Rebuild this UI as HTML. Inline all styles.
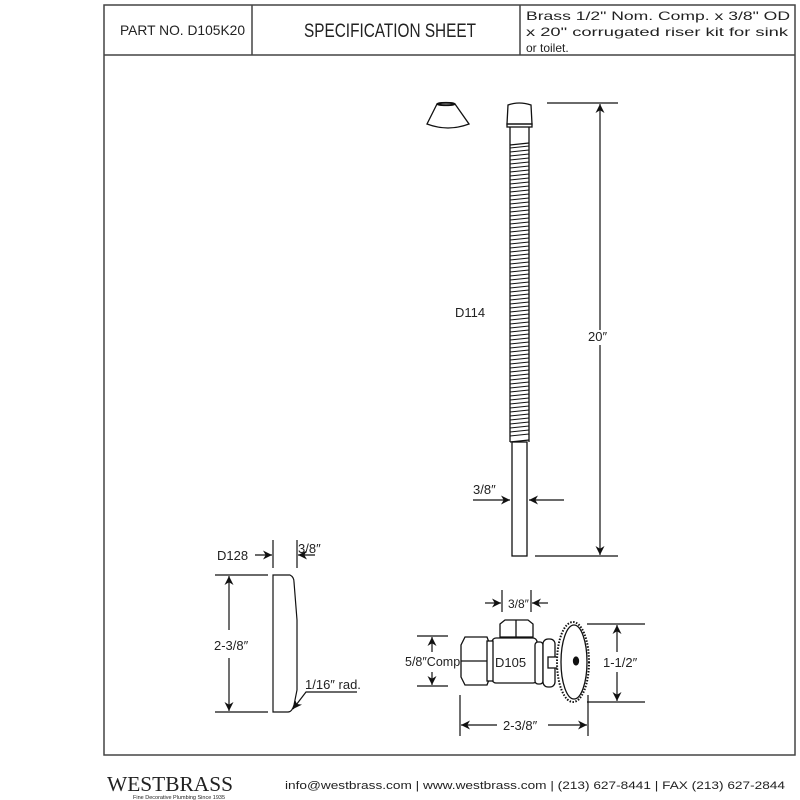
<!DOCTYPE html>
<html><head><meta charset="utf-8"><style>
html,body{margin:0;padding:0;background:#fff;}
svg{display:block;}
text{font-family:"Liberation Sans",sans-serif;fill:#222;}
</style></head><body>
<svg width="800" height="800" viewBox="0 0 800 800" xmlns="http://www.w3.org/2000/svg">
<defs>
<marker id="a" viewBox="0 0 10 10" refX="10" refY="5" markerWidth="9" markerHeight="9" orient="auto-start-reverse" markerUnits="userSpaceOnUse"><path d="M0,0 L10,5 L0,10 L3,5 z" fill="#111"/></marker>
</defs>
<g fill="none" stroke="#444" stroke-width="1.5">
<rect x="104" y="5" width="691" height="750"/>
<line x1="104" y1="55" x2="795" y2="55"/>
<line x1="252" y1="5" x2="252" y2="55"/>
<line x1="520" y1="5" x2="520" y2="55"/>
</g>
<text x="120" y="35" font-size="14" textLength="125" lengthAdjust="spacingAndGlyphs">PART NO.  D105K20</text>
<text x="304" y="37" font-size="19" textLength="172" lengthAdjust="spacingAndGlyphs">SPECIFICATION SHEET</text>
<text x="526" y="20" font-size="12" textLength="264" lengthAdjust="spacingAndGlyphs">Brass 1/2" Nom. Comp. x 3/8" OD</text>
<text x="526" y="36" font-size="12" textLength="262" lengthAdjust="spacingAndGlyphs">x 20" corrugated riser kit for sink</text>
<text x="526" y="52" font-size="12">or toilet.</text>

<g fill="none" stroke="#111" stroke-width="1.3">
<path d="M437,104 L455,104 L469,124 Q448,132 427,124 Z" fill="#fff"/>
<ellipse cx="446" cy="104" rx="9" ry="1.5"/>
<path d="M508,105 Q519,101 531,105 L532,124 L507,124 Z"/>
<rect x="507" y="124" width="25" height="3"/>
<line x1="510" y1="127" x2="510" y2="442"/>
<line x1="529" y1="127" x2="529" y2="442"/>
<path d="M510,145 L529,143 M510,442 L529,440" />
<rect x="512" y="442" width="15" height="114"/>
</g>
<g stroke="#111" stroke-width="1">
<path d="M510,148 l19,-2 M510,152 l19,-2 M510,156 l19,-2 M510,160 l19,-2 M510,164 l19,-2 M510,168 l19,-2 M510,172 l19,-2 M510,176 l19,-2 M510,180 l19,-2 M510,184 l19,-2 M510,188 l19,-2 M510,192 l19,-2 M510,196 l19,-2 M510,200 l19,-2 M510,204 l19,-2 M510,208 l19,-2 M510,212 l19,-2 M510,216 l19,-2 M510,220 l19,-2 M510,224 l19,-2 M510,228 l19,-2 M510,232 l19,-2 M510,236 l19,-2 M510,240 l19,-2 M510,244 l19,-2 M510,248 l19,-2 M510,252 l19,-2 M510,256 l19,-2 M510,260 l19,-2 M510,264 l19,-2 M510,268 l19,-2 M510,272 l19,-2 M510,276 l19,-2 M510,280 l19,-2 M510,284 l19,-2 M510,288 l19,-2 M510,292 l19,-2 M510,296 l19,-2 M510,300 l19,-2 M510,304 l19,-2 M510,308 l19,-2 M510,312 l19,-2 M510,316 l19,-2 M510,320 l19,-2 M510,324 l19,-2 M510,328 l19,-2 M510,332 l19,-2 M510,336 l19,-2 M510,340 l19,-2 M510,344 l19,-2 M510,348 l19,-2 M510,352 l19,-2 M510,356 l19,-2 M510,360 l19,-2 M510,364 l19,-2 M510,368 l19,-2 M510,372 l19,-2 M510,376 l19,-2 M510,380 l19,-2 M510,384 l19,-2 M510,388 l19,-2 M510,392 l19,-2 M510,396 l19,-2 M510,400 l19,-2 M510,404 l19,-2 M510,408 l19,-2 M510,412 l19,-2 M510,416 l19,-2 M510,420 l19,-2 M510,424 l19,-2 M510,428 l19,-2 M510,432 l19,-2 M510,436 l19,-2"/>
</g>
<g stroke="#111" stroke-width="1.2" fill="none">
<line x1="547" y1="103" x2="618" y2="103"/>
<line x1="535" y1="556" x2="618" y2="556"/>
<line x1="600" y1="330" x2="600" y2="104" marker-end="url(#a)"/>
<line x1="600" y1="345" x2="600" y2="555" marker-end="url(#a)"/>
<line x1="473" y1="500" x2="510" y2="500" marker-end="url(#a)"/>
<line x1="564" y1="500" x2="529" y2="500" marker-end="url(#a)"/>
</g>
<text x="588" y="341" font-size="13">20″</text>
<text x="455" y="317" font-size="13">D114</text>
<text x="473" y="494" font-size="13">3/8″</text>

<g stroke="#111" stroke-width="1.2" fill="none">
<line x1="273" y1="540" x2="273" y2="568"/>
<line x1="297" y1="540" x2="297" y2="568"/>
<line x1="255" y1="555" x2="272" y2="555" marker-end="url(#a)"/>
<line x1="315" y1="555" x2="298" y2="555" marker-end="url(#a)"/>
<path d="M273,575 L290,575 Q294,577 294,582 L297,620 L297,690 L294,705 Q292,712 288,712 L273,712 Z"/>
<line x1="215" y1="575" x2="268" y2="575"/>
<line x1="215" y1="712" x2="268" y2="712"/>
<line x1="229" y1="630" x2="229" y2="576" marker-end="url(#a)"/>
<line x1="229" y1="658" x2="229" y2="711" marker-end="url(#a)"/>
<path d="M357,692 L306,692 L293,709" marker-end="url(#a)"/>
</g>
<text x="217" y="560" font-size="13">D128</text>
<text x="298" y="553" font-size="13">3/8″</text>
<text x="214" y="650" font-size="13">2-3/8″</text>
<text x="305" y="689" font-size="13">1/16″ rad.</text>

<g stroke="#111" stroke-width="1.3" fill="#fff">
<path d="M500,624 L505,620 L528,620 L533,624 L533,637 L500,637 Z"/>
<line x1="516" y1="620" x2="516" y2="637"/>
<rect x="492" y="638" width="45" height="45" rx="4"/>
<path d="M465,637 L487,637 L490,645 L490,677 L487,685 L465,685 L461,677 L461,645 Z"/>
<line x1="461" y1="661" x2="490" y2="661"/>
<rect x="487" y="641" width="6" height="40"/>
<rect x="535" y="642" width="8" height="42" rx="3"/>
<rect x="543" y="639" width="12" height="48" rx="5"/>
<rect x="548" y="657" width="12" height="11"/>
<ellipse cx="573" cy="662" rx="16" ry="40" stroke-width="2" stroke-dasharray="1.5 1.5"/>
<ellipse cx="574" cy="662" rx="13" ry="37"/>
<ellipse cx="576" cy="661" rx="2.5" ry="4" fill="#111"/>
</g>
<text x="495" y="667" font-size="13">D105</text>
<text x="405" y="666" font-size="12.5">5/8″Comp</text>
<text x="603" y="667" font-size="13">1-1/2″</text>
<text x="508" y="608" font-size="12">3/8″</text>
<text x="503" y="730" font-size="13">2-3/8″</text>
<g stroke="#111" stroke-width="1.2" fill="none">
<line x1="502" y1="590" x2="502" y2="612"/>
<line x1="531" y1="590" x2="531" y2="612"/>
<line x1="485" y1="603" x2="501" y2="603" marker-end="url(#a)"/>
<line x1="548" y1="603" x2="532" y2="603" marker-end="url(#a)"/>
<line x1="417" y1="636" x2="448" y2="636"/>
<line x1="417" y1="686" x2="448" y2="686"/>
<line x1="432" y1="652" x2="432" y2="637" marker-end="url(#a)"/>
<line x1="432" y1="672" x2="432" y2="685" marker-end="url(#a)"/>
<line x1="587" y1="624" x2="645" y2="624"/>
<line x1="587" y1="702" x2="645" y2="702"/>
<line x1="617" y1="652" x2="617" y2="625" marker-end="url(#a)"/>
<line x1="617" y1="672" x2="617" y2="701" marker-end="url(#a)"/>
<line x1="460" y1="695" x2="460" y2="736"/>
<line x1="588" y1="695" x2="588" y2="736"/>
<line x1="497" y1="725" x2="461" y2="725" marker-end="url(#a)"/>
<line x1="548" y1="725" x2="587" y2="725" marker-end="url(#a)"/>
</g>

<text x="107" y="791" font-size="21" style="font-family:'Liberation Serif',serif" textLength="126" lengthAdjust="spacingAndGlyphs">WESTBRASS</text>
<text x="133" y="799" font-size="5.5" fill="#555">Fine Decorative Plumbing Since 1935</text>
<text x="285" y="789" font-size="11" textLength="500" lengthAdjust="spacingAndGlyphs">info@westbrass.com | www.westbrass.com   |   (213) 627-8441   |   FAX (213) 627-2844</text>
</svg>
</body></html>
